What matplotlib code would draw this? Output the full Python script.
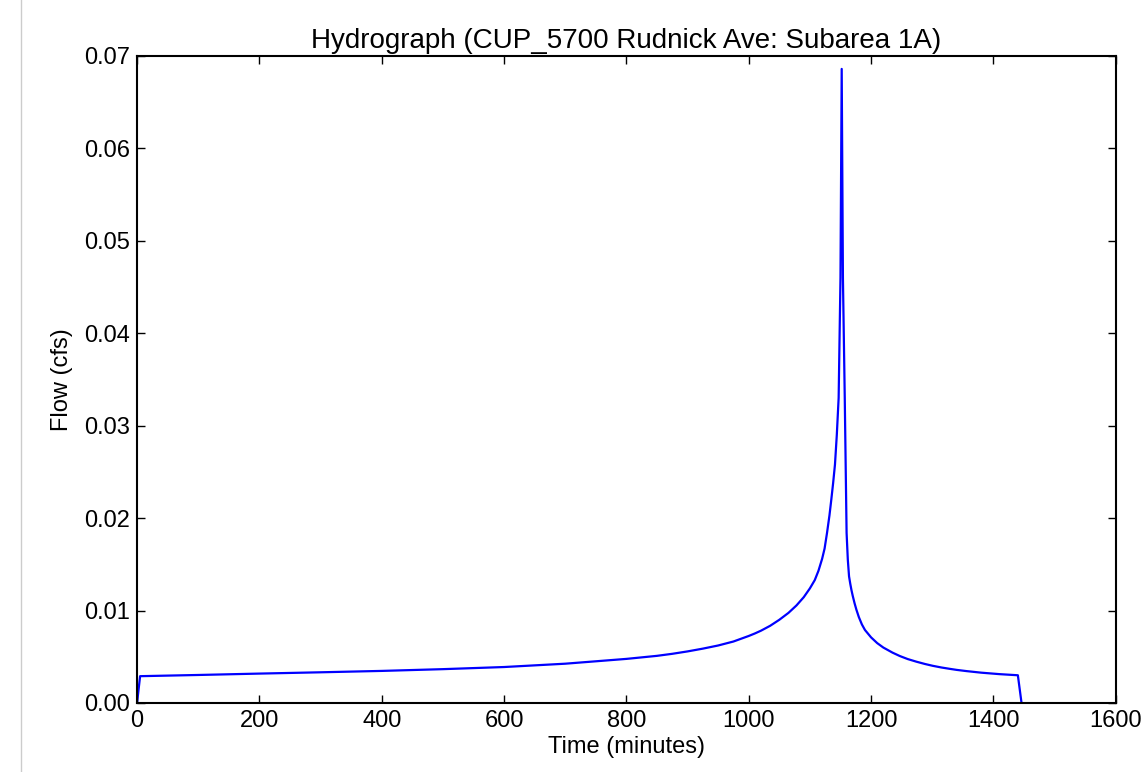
import matplotlib
matplotlib.use("Agg")
import matplotlib.pyplot as plt
from matplotlib.lines import Line2D

time_min = [0, 5, 100, 200, 300, 400, 500, 600, 700, 800, 850, 875, 900, 925,
            950, 975, 1000, 1010, 1020, 1035, 1050, 1065, 1078, 1090, 1100,
            1108, 1114, 1120, 1124, 1128, 1132, 1135, 1138, 1141, 1144, 1147,
            1150, 1152, 1154, 1157, 1160, 1162, 1164, 1166, 1168, 1170, 1173,
            1176, 1180, 1185, 1190, 1200, 1210, 1220, 1235, 1247, 1260, 1274,
            1288, 1301, 1315, 1329, 1340, 1356, 1380, 1410, 1440, 1446]
flow_cfs = [0.0, 0.00290, 0.00303, 0.00318, 0.00332, 0.00347, 0.00366, 0.00389,
            0.00425, 0.00477, 0.00510, 0.00532, 0.00558, 0.00588,
            0.00622, 0.00665, 0.00725, 0.00752, 0.00782, 0.00835, 0.00900,
            0.00975, 0.01055, 0.01145, 0.01240,
            0.01330, 0.01430, 0.01560, 0.01670, 0.01840, 0.02030, 0.02200,
            0.02380, 0.02580, 0.02900, 0.03300,
            0.04600, 0.06860, 0.04600, 0.03300, 0.01840, 0.01550, 0.01370,
            0.01290, 0.01220, 0.01160, 0.01080,
            0.01010, 0.00930, 0.00850, 0.00790, 0.00710, 0.00648, 0.00600,
            0.00545, 0.00508, 0.00475, 0.00447,
            0.00422, 0.00402, 0.00384, 0.00369, 0.00358, 0.00345, 0.00328,
            0.00312, 0.00300, 0.0]

x_ticks = [0, 200, 400, 600, 800, 1000, 1200, 1400, 1600]
y_ticks = [0.00, 0.01, 0.02, 0.03, 0.04, 0.05, 0.06, 0.07]
title = "Hydrograph (CUP_5700 Rudnick Ave: Subarea 1A)"

plt.rcParams['font.family'] = ['Liberation Sans', 'DejaVu Sans']

fig = plt.figure(figsize=(11.42, 7.72), dpi=100, facecolor='white')
ax = fig.add_axes([0.120, 0.0894, 0.857, 0.8381])
ax.plot(time_min, flow_cfs, color='blue', lw=1.6)

ax.set_xlim(0, 1600)
ax.set_ylim(0, 0.07)
ax.set_xticks(x_ticks)
ax.set_yticks(y_ticks)
ax.set_yticklabels([f"{v:.2f}" for v in y_ticks])
ax.tick_params(direction='in', top=True, right=True, length=6, width=1,
               labelsize=17, pad=5)
for s in ax.spines.values():
    s.set_linewidth(1.5)

ax.set_title(title, fontsize=20, pad=6)
ax.set_xlabel("Time (minutes)", fontsize=17, labelpad=3)
ax.set_ylabel("Flow (cfs)", fontsize=17, labelpad=8)

# page border line at left
fig.add_artist(Line2D([0.0185, 0.0185], [0, 1], transform=fig.transFigure,
                      color='#cccccc', lw=1))

fig.savefig("out.png", dpi=100, facecolor='white')
